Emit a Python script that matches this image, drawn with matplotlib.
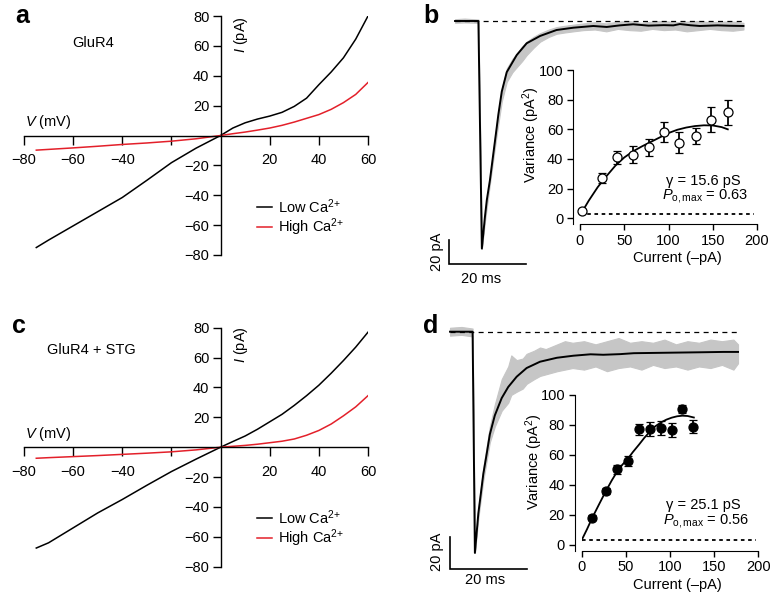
import matplotlib
matplotlib.use('Agg')
import matplotlib.pyplot as plt

plt.rcParams['font.family'] = ['Liberation Sans', 'DejaVu Sans']
plt.rcParams['mathtext.fontset'] = 'custom'
plt.rcParams['mathtext.rm'] = 'Liberation Sans'
plt.rcParams['mathtext.it'] = 'Liberation Sans:italic'
plt.rcParams['mathtext.bf'] = 'Liberation Sans:bold'

W, H = 776, 600
RED = '#e3202a'
GRAY = '#c6c6c6'

# ---- I-V curves (mV, pA) ----
volt_a = [-75, -70, -60, -50, -40, -30, -20, -10, 0, 5, 10, 15, 20, 25, 30, 35, 40, 45, 50, 55, 60]
low_a = [-75, -70, -60.5, -51, -41.5, -30, -18.2, -8.5, 0, 5, 8.5, 11, 13, 15.5, 19.5, 25, 34, 42.5, 52, 64.5, 80]
high_a = [-9.8, -9.3, -8.3, -7.2, -6, -5, -3.8, -2.2, 0, 1.2, 2.3, 3.6, 5, 6.8, 9, 11.5, 14, 17.5, 22, 27.5, 35.5]

volt_c = [-75, -70, -60, -50, -40, -30, -20, -10, 0, 5, 10, 15, 20, 25, 30, 35, 40, 45, 50, 55, 60]
low_c = [-67.5, -64, -54, -44, -35, -25.5, -16.3, -8, 0, 3.8, 7.5, 12, 17, 22, 28, 34.5, 41.5, 49.5, 58, 67, 77]
high_c = [-7.4, -7, -6.3, -5.6, -4.8, -4, -3.1, -1.8, 0, 0.6, 1.2, 2, 3, 4, 5.5, 8, 11.2, 15.5, 21, 27, 34.5]

# ---- mean current traces (ms, pA) ----
t_b = [1.5, 7.6, 8.5, 9.3, 9.8, 10.6, 12.4, 12.8, 13.7, 15, 17.6, 20.2, 23.7, 28, 32.4, 37.6,
       41.1, 44.5, 48, 52, 56, 58.5, 60.2, 63, 65.4, 70, 73, 76.8]
mean_b = [0, 0, -187, -161, -147, -131, -87, -77, -58, -42, -28, -18.3, -12.3, -7.4, -5.5, -4.1,
          -4.9, -3.6, -2.7, -3.8, -3.4, -3.6, -2.5, -3.5, -4.1, -3.6, -3.9, -4.1]
# raw (gray) trace envelope
gt_b = [1.5, 4, 7.6, 8.5, 9.3, 10.6, 12.4, 13.7, 15, 16.5, 17.6, 19, 20.2, 22, 23.7, 26, 28, 30,
        32.4, 35, 38, 41, 44, 47, 50, 53, 56, 59, 62, 65, 68, 71, 74, 76.8]
glo_b = [-1.5, -1.2, -1.5, -187, -165, -134, -93, -66, -50, -42, -38, -33, -28, -22, -17, -13, -10.5, -9.5,
         -8.5, -7.5, -7, -8.5, -6.5, -7.5, -8, -6.5, -7.5, -7, -8.5, -7.5, -6.5, -7.5, -8, -7]
ghi_b = [1.5, 2, 1.2, -187, -159, -128, -84, -56, -39, -31, -27, -21, -17, -13, -10, -7, -5, -4,
         -3, -2, -1, -2, -0.5, 0, -1.5, -0.5, 0, -1, -0.5, 0, -1, -0.5, -0.5, -1.5]

t_d = [0, 5.9, 6.5, 7.4, 8.7, 9.6, 10.4, 11.7, 13.5, 15.2, 17.4, 20, 23.5, 27.9, 32.2, 36.7,
       40, 44.4, 48, 54, 60, 66, 71.4, 75.2]
mean_d = [0, 0, -140, -115, -90, -77, -65, -53, -42, -35, -28.5, -23, -19, -16.5, -15.2, -14.3,
          -14.6, -14.2, -13.6, -13.4, -13.2, -13, -12.8, -12.8]
gt_d = [0, 3, 5.9, 6.5, 7.4, 8.7, 10.4, 11.7, 13.5, 15.2, 16, 17.4, 19, 20, 22, 23.5, 25, 28, 30, 32,
        35, 38, 41, 44, 47, 50, 53, 56, 59, 62, 65, 68, 71, 74, 75.2]
glo_d = [-2.5, -2, -3, -140, -118, -94, -70, -60, -50, -45, -40, -38, -36, -33, -30, -28, -27, -25, -24, -23,
         -24, -22, -25, -23, -22, -24, -21, -23, -22, -24, -22, -23, -21, -24, -20]
ghi_d = [2.5, 3, 2, -140, -112, -86, -60, -46, -30, -22, -15, -18, -17, -14, -12, -10, -11, -8, -6, -7,
         -6, -8, -6, -4, -7, -6, -7, -5, -8, -6, -7, -5, -6, -5, -8]

# ---- variance vs mean current ----
cur_b = [1.9, 25.3, 42.1, 59.7, 77.6, 95.4, 111.6, 131.1, 148, 167.2]
var_b = [5.1, 27, 41, 42.9, 47.8, 58.1, 51.1, 55.6, 66.4, 71.4]
err_b = [0.8, 3.4, 4.5, 5.6, 6, 6.7, 7.2, 5.4, 8.5, 8.4]
fit_i_b = [2, 10, 20, 30, 40, 50, 60, 70, 80, 90, 100, 110, 120, 130, 140, 150, 160, 167]
fit_v_b = [4, 12, 21, 28.5, 35.5, 41, 45.2, 48.5, 51.5, 54.5, 57.5, 59.7, 61.2, 62.2, 62.7, 62.6, 61.5, 60]

cur_d = [11.7, 27.2, 39.6, 52.1, 64.5, 77.3, 89.5, 101.9, 113.9, 126.4]
var_d = [18.2, 36, 50.4, 56, 77.1, 77.3, 77.8, 76.7, 90.4, 78.9]
err_d = [1.5, 2, 3.1, 3.3, 3.6, 4.9, 4.7, 4.7, 2.7, 4.4]
fit_i_d = [0, 6, 12, 20, 27, 34, 40, 46, 52, 58, 65, 71, 77, 83, 90, 96, 102, 108, 114, 120, 127]
fit_v_d = [3.3, 10.5, 18.2, 27.5, 35.5, 43, 48.8, 53.5, 57.3, 62, 67, 71.5, 75.4, 79, 81.8, 83.6, 84.9,
           85.8, 86.2, 86, 85]

fig = plt.figure(figsize=(W / 100, H / 100), dpi=100)


def px_axes(x0, y0, x1, y1):
    return fig.add_axes([x0 / W, 1 - y1 / H, (x1 - x0) / W, (y1 - y0) / H])


def ftext(x, y, s, **kw):
    fig.text(x / W, 1 - y / H, s, **kw)


def iv_panel(box, volt, low, high):
    ax = px_axes(*box)
    ax.patch.set_visible(False)
    ax.plot(volt, low, color='black', lw=1.1)
    ax.plot(volt, high, color=RED, lw=1.1)
    ax.set_xlim(-80, 60)
    ax.set_ylim(-80, 80)
    ax.spines['left'].set_position(('data', 0))
    ax.spines['bottom'].set_position(('data', 0))
    ax.spines['top'].set_visible(False)
    ax.spines['right'].set_visible(False)
    for s in ['left', 'bottom']:
        ax.spines[s].set_linewidth(1.0)
    ax.set_xticks([-80, -60, -40, -20, 20, 40, 60])
    ax.set_xticklabels(['\u221280', '\u221260', '\u221240', '', '20', '40', '60'])
    ax.set_yticks([-80, -60, -40, -20, 20, 40, 60, 80])
    ax.set_yticklabels(['\u221280', '\u221260', '\u221240', '\u221220', '20', '40', '60', '80'])
    ax.tick_params(axis='x', direction='out', length=6.5, width=1.0, pad=6, labelsize=10.5)
    ax.tick_params(axis='y', direction='out', length=6, width=1.0, pad=2, labelsize=10.5)
    return ax


def trace_panel(box, org, ms_px, pa_px, t, mean, gt, glo, ghi, bar_base):
    x0, y0, x1, y1 = box
    ax = px_axes(*box)
    ax.set_xlim((x0 - org[0]) / ms_px, (x1 - org[0]) / ms_px)
    ax.set_ylim(-(y1 - org[1]) / pa_px, -(y0 - org[1]) / pa_px)
    ax.fill_between(gt, glo, ghi, color=GRAY, lw=0.8, edgecolor=GRAY)
    ax.plot(t, mean, color='black', lw=1.4)
    ax.plot([gt[0], gt[-1]], [0, 0], color='black', lw=0.9, dashes=(4, 3.5))
    # scale bar 20 ms / 20 pA
    ax.plot([0, 0, 20], [bar_base + 20, bar_base, bar_base], color='black', lw=1.2,
            solid_joinstyle='miter')
    ax.axis('off')
    return ax


def var_panel(box, cur, var, err, fit_i, fit_v, base, filled):
    ax = px_axes(*box)
    ax.patch.set_visible(False)
    ax.plot(fit_i, fit_v, color='black', lw=1.3)
    ax.plot([0, 197], [base, base], color='black', lw=1.3, dashes=(2, 2))
    ax.errorbar(cur, var, yerr=err, fmt='o', ms=6.5, mfc='black' if filled else 'white',
                mec='black', mew=0.9, ecolor='black', elinewidth=1.3, capsize=2.8,
                capthick=1.3, clip_on=False, zorder=3)
    ax.set_xlim(0, 200)
    ax.set_ylim(0, 100)
    ax.spines['top'].set_visible(False)
    ax.spines['right'].set_visible(False)
    ax.spines['left'].set_position(('outward', 5))
    ax.spines['bottom'].set_position(('outward', 4))
    ax.spines['left'].set_bounds(-3.8, 100)
    ax.set_xticks([0, 50, 100, 150, 200])
    ax.set_yticks([0, 20, 40, 60, 80, 100])
    ax.tick_params(direction='out', length=4.5, width=1.0, pad=2.5, labelsize=10.5)
    return ax


# panel a
iv_panel((24, 16, 368, 255), volt_a, low_a, high_a)
ftext(15, 23, 'a', fontsize=18, fontweight='bold')
ftext(72, 47, 'GluR4', fontsize=10.5)
ftext(241, 35, '$I$ (pA)', fontsize=10.5, rotation=90, ha='center', va='center')
ftext(25, 122, '$V$ (mV)', fontsize=10.5, va='center')

# panel c
iv_panel((24, 327.7, 368, 566.7), volt_c, low_c, high_c)
ftext(12, 333, 'c', fontsize=18, fontweight='bold')
ftext(47, 354, 'GluR4 + STG', fontsize=10.5)
ftext(241, 345, '$I$ (pA)', fontsize=10.5, rotation=90, ha='center', va='center')
ftext(25, 434, '$V$ (mV)', fontsize=10.5, va='center')

# legends of a and c
leg = fig.add_axes([0, 0, 1, 1])
leg.set_xlim(0, W)
leg.set_ylim(H, 0)
leg.axis('off')
for ly in [207, 518]:
    leg.plot([257, 272], [ly, ly], color='black', lw=1.1)
    leg.plot([257, 272], [ly + 20, ly + 20], color=RED, lw=1.1)
    ftext(278, ly, 'Low Ca$^{2{+}}$', fontsize=10.5, va='center')
    ftext(278, ly + 20, 'High Ca$^{2{+}}$', fontsize=10.5, va='center')

# panel b
trace_panel((440, 10, 760, 290), (449.3, 21), 3.83, 1.217, t_b, mean_b, gt_b, glo_b, ghi_b, -200)
var_panel((580, 70, 757, 218.3), cur_b, var_b, err_b, fit_i_b, fit_v_b, 2.7, False)
ftext(423, 23, 'b', fontsize=18, fontweight='bold')
ftext(437, 252, '20 pA', fontsize=10.5, rotation=90, ha='center', va='center')
ftext(481, 279, '20 ms', fontsize=10.5, ha='center', va='center')
ftext(531, 135, 'Variance (pA$^2$)', fontsize=10.5, rotation=90, ha='center', va='center')
ftext(677, 258, 'Current (\u2013pA)', fontsize=10.5, ha='center', va='center')
ftext(703, 181, '\u03b3 = 15.6 pS', fontsize=10.5, ha='center', va='center')
ftext(705, 196, '$P_{\\mathrm{o,max}}$ = 0.63', fontsize=10.5, ha='center', va='center')

# panel d
trace_panel((440, 320, 760, 600), (450, 331.7), 3.83, 1.58, t_d, mean_d, gt_d, glo_d, ghi_d, -150)
var_panel((581.7, 395, 758.3, 545), cur_d, var_d, err_d, fit_i_d, fit_v_d, 3.3, True)
ftext(423, 333, 'd', fontsize=18, fontweight='bold')
ftext(437, 552, '20 pA', fontsize=10.5, rotation=90, ha='center', va='center')
ftext(485, 580, '20 ms', fontsize=10.5, ha='center', va='center')
ftext(534, 462, 'Variance (pA$^2$)', fontsize=10.5, rotation=90, ha='center', va='center')
ftext(677, 585, 'Current (\u2013pA)', fontsize=10.5, ha='center', va='center')
ftext(703, 505, '\u03b3 = 25.1 pS', fontsize=10.5, ha='center', va='center')
ftext(706, 521, '$P_{\\mathrm{o,max}}$ = 0.56', fontsize=10.5, ha='center', va='center')

fig.savefig('out.png', dpi=100)
